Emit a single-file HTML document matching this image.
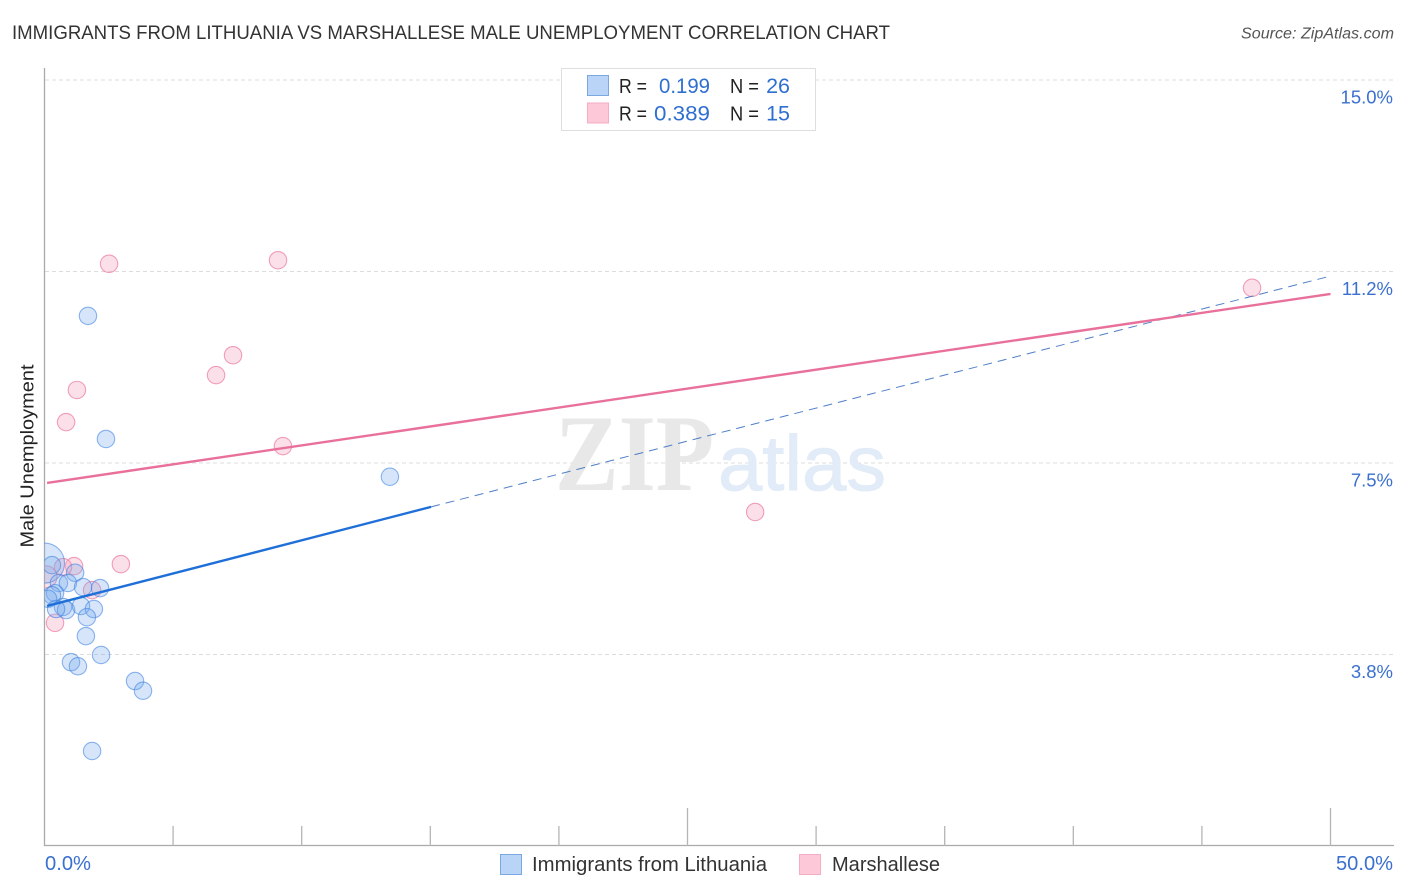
<!DOCTYPE html>
<html lang="en">
<head>
<meta charset="utf-8">
<title>Immigrants from Lithuania vs Marshallese Male Unemployment Correlation Chart</title>
<style>
html,body{margin:0;padding:0;background:#fff;width:1406px;height:892px;overflow:hidden}
svg{display:block;font-family:"Liberation Sans",sans-serif}
</style>
</head>
<body>
<svg id="chart" width="1406" height="892" viewBox="0 0 1406 892" xmlns="http://www.w3.org/2000/svg">
  <defs><clipPath id="plot-clip"><rect x="44.5" y="60" width="1350" height="786"/></clipPath></defs>
  <text x="12" y="39" font-size="19.5" fill="#333" textLength="878" lengthAdjust="spacingAndGlyphs">IMMIGRANTS FROM LITHUANIA VS MARSHALLESE MALE UNEMPLOYMENT CORRELATION CHART</text>
  <text x="1394" y="38.5" font-size="15.5" font-style="italic" fill="#555" text-anchor="end" textLength="153" lengthAdjust="spacingAndGlyphs">Source: ZipAtlas.com</text>

  <g id="grid"></g>

  <g>
    <text x="555" y="490" font-family="'Liberation Serif',serif" font-weight="bold" font-size="109" fill="#e8e8e8" textLength="159" lengthAdjust="spacingAndGlyphs">ZIP</text>
    <text x="718" y="490" font-size="78" fill="#e2ebf8" stroke="#e2ebf8" stroke-width="1" textLength="168" lengthAdjust="spacingAndGlyphs">atlas</text>
  </g>

  <g id="axes"></g>
  <g id="points" clip-path="url(#plot-clip)"></g>
  <g id="trends"></g>
  <g id="labels"></g>

  <text transform="translate(33.5,456) rotate(-90)" font-size="18.5" fill="#222" text-anchor="middle" textLength="183" lengthAdjust="spacingAndGlyphs">Male Unemployment</text>

  <g>
    <rect x="561.5" y="68.5" width="254" height="62" fill="#fff" stroke="#dedede"/>
    <rect x="587.5" y="75.5" width="21" height="20" fill="#b9d4f7" stroke="#7aa8e0"/>
    <rect x="587.5" y="103" width="21" height="20" fill="#fdc8d8" stroke="#f4adc4"/>
    <g font-size="20">
      <text x="619" y="93" fill="#222" textLength="28" lengthAdjust="spacingAndGlyphs">R =</text>
      <text x="659" y="93" fill="#2f6fd0" font-size="21.5" textLength="51" lengthAdjust="spacingAndGlyphs">0.199</text>
      <text x="730" y="93" fill="#222" textLength="29" lengthAdjust="spacingAndGlyphs">N =</text>
      <text x="790" y="93" fill="#2f6fd0" text-anchor="end" font-size="21.5">26</text>
      <text x="619" y="120.500" fill="#222" textLength="28" lengthAdjust="spacingAndGlyphs">R =</text>
      <text x="654" y="120.500" fill="#2f6fd0" font-size="21.5" textLength="56" lengthAdjust="spacingAndGlyphs">0.389</text>
      <text x="730" y="120.500" fill="#222" textLength="29" lengthAdjust="spacingAndGlyphs">N =</text>
      <text x="790" y="120.500" fill="#2f6fd0" text-anchor="end" font-size="21.5">15</text>
    </g>
  </g>

  <g>
    <rect x="500.500" y="854.500" width="21" height="20" fill="#b9d4f7" stroke="#7aa8e0"/>
    <text x="532" y="871" font-size="20" fill="#333" textLength="235" lengthAdjust="spacingAndGlyphs">Immigrants from Lithuania</text>
    <rect x="799.500" y="854.500" width="21" height="20" fill="#fdc8d8" stroke="#f4adc4"/>
    <text x="832" y="871" font-size="20" fill="#333" textLength="108" lengthAdjust="spacingAndGlyphs">Marshallese</text>
  </g>
</svg>
<script>
const yTicks = [15, 11.25, 7.5, 3.75];
const yTickLabels = ["15.0%", "11.2%", "7.5%", "3.8%"];
const xTicks = [0, 5, 10, 15, 20, 25, 30, 35, 40, 45, 50];
const xMajorTicks = [25, 50];
const xEndLabels = ["0.0%", "50.0%"];

const lithuaniaX = [1.69,2.39,13.43,0.0,0.29,1.19,0.56,0.91,1.50,2.16,0.41,0.29,0.14,0.72,0.84,0.45,1.42,1.92,1.65,1.61,2.20,1.03,1.30,3.52,3.83,1.85];
const lithuaniaY = [10.38,7.97,7.23,5.54,5.50,5.35,5.15,5.15,5.07,5.05,4.95,4.91,4.84,4.68,4.62,4.64,4.70,4.64,4.48,4.11,3.74,3.60,3.52,3.23,3.04,1.86];
const lithuaniaWeight = [1,1,1,5.3,1,1,1,1,1,1,1,1,1,1,1,1,1,1,1,1,1,1,1,1,1,1];

const marshalleseX = [2.51,9.08,7.33,6.67,1.26,0.84,9.27,46.95,27.63,2.97,1.15,0.72,1.85,0.41,0.06];
const marshalleseY = [11.40,11.47,9.61,9.22,8.93,8.30,7.83,10.93,6.54,5.52,5.48,5.46,5.01,4.37,5.27];
const marshalleseWeight = [1,1,1,1,1,1,1,1,1,1,1,1,1,1,1.6];

const lithuaniaTrendX = [0.1, 15.03];
const lithuaniaTrendY = [4.70, 6.64];
const lithuaniaDashX = [15.03, 50];
const lithuaniaDashY = [6.64, 11.16];
const marshalleseTrendX = [0.1, 50];
const marshalleseTrendY = [7.11, 10.81];

const NS = "http://www.w3.org/2000/svg";
const xScale = v => 44.5 + v * 25.72;
const yScale = v => 846 - v * 51.07;
const radiusScale = w => 8.7 * Math.sqrt(w);

function make(tag, parentId, attrs) {
  const el = document.createElementNS(NS, tag);
  for (const k in attrs) el.setAttribute(k, attrs[k]);
  document.getElementById(parentId).appendChild(el);
  return el;
}

yTicks.forEach((t, i) => {
  const line = make("line", "grid", {x1: 45, x2: 1394, y1: yScale(t), y2: yScale(t), stroke: "#dcdcdc", "stroke-width": 1, "stroke-dasharray": "4 3"});
  
  
  const label = make("text", "labels", {x: 1393, y: yScale(t) + 23.5, "font-size": 18.5, fill: "#3a70cf", "text-anchor": "end"});
  label.textContent = yTickLabels[i];
  
  
});

const yAxisLine = make("line", "axes", {x1: 44.5, x2: 44.5, y1: 68, y2: 846, stroke: "#aaa", "stroke-width": 1.3});


const xAxisLine = make("line", "axes", {x1: 44, x2: 1394, y1: 845.5, y2: 845.5, stroke: "#aaa", "stroke-width": 1.3});



xTicks.forEach(t => {
  if (t === 0) return;
  const top = xMajorTicks.includes(t) ? 808 : 826;
  const tick = make("line", "axes", {x1: xScale(t), x2: xScale(t), y1: top, y2: 846, stroke: "#b5b5b5", "stroke-width": 1.3});
  
  
});

const xStart = make("text", "labels", {x: 45, y: 870, "font-size": 20, fill: "#3a70cf", textLength: 46, lengthAdjust: "spacingAndGlyphs"});
xStart.textContent = xEndLabels[0];


const xEnd = make("text", "labels", {x: 1336, y: 870, "font-size": 20, fill: "#3a70cf", textLength: 57, lengthAdjust: "spacingAndGlyphs"});
xEnd.textContent = xEndLabels[1];



marshalleseX.forEach((v, i) => {
  const c = make("circle", "points", {cx: xScale(v), cy: yScale(marshalleseY[i]), r: radiusScale(marshalleseWeight[i]), fill: "rgba(248,170,195,0.36)", stroke: "rgba(236,125,160,0.72)", "stroke-width": 1.1});
  
  
});
lithuaniaX.forEach((v, i) => {
  const c = make("circle", "points", {cx: xScale(v), cy: yScale(lithuaniaY[i]), r: radiusScale(lithuaniaWeight[i]), fill: "rgba(120,170,235,0.3)", stroke: "rgba(60,130,225,0.58)", "stroke-width": 1.1});
  
  
});

const dash = make("line", "trends", {x1: xScale(lithuaniaDashX[0]), y1: yScale(lithuaniaDashY[0]), x2: xScale(lithuaniaDashX[1]), y2: yScale(lithuaniaDashY[1]), stroke: "#4f7fc8", "stroke-width": 1, "stroke-dasharray": "9 6"});


const blueTrend = make("line", "trends", {x1: xScale(lithuaniaTrendX[0]), y1: yScale(lithuaniaTrendY[0]), x2: xScale(lithuaniaTrendX[1]), y2: yScale(lithuaniaTrendY[1]), stroke: "#1f6fd8", "stroke-width": 2.4});


const pinkTrend = make("line", "trends", {x1: xScale(marshalleseTrendX[0]), y1: yScale(marshalleseTrendY[0]), x2: xScale(marshalleseTrendX[1]), y2: yScale(marshalleseTrendY[1]), stroke: "#e8709b", "stroke-width": 2.4});


</script>
</body>
</html>
